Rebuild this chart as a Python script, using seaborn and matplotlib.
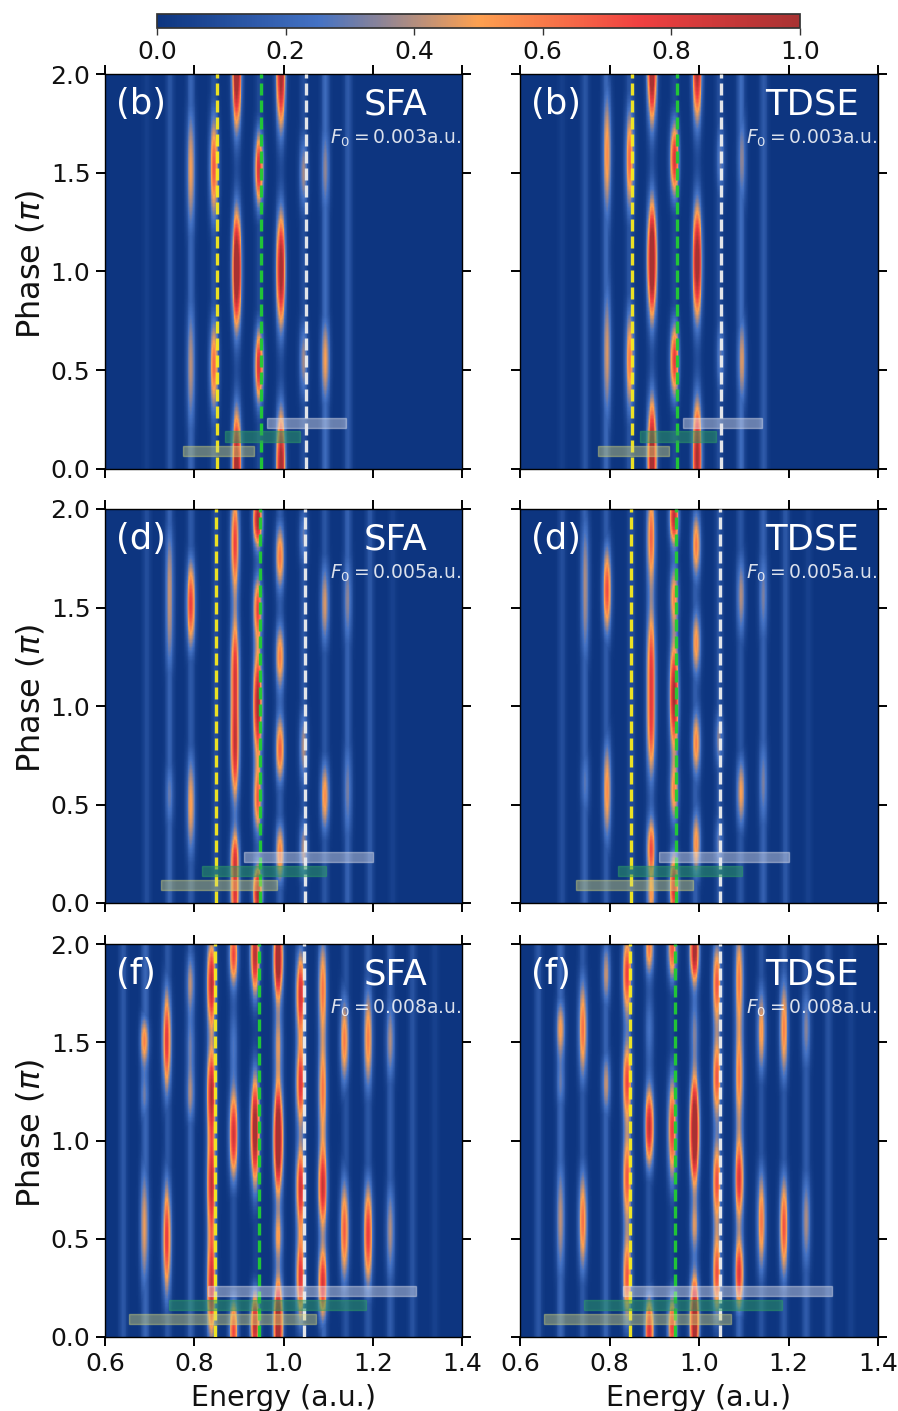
import numpy as np
import pandas as pd
import matplotlib
matplotlib.use("Agg")
import matplotlib.pyplot as plt
from matplotlib.colors import LinearSegmentedColormap
from matplotlib.cm import ScalarMappable
from matplotlib.colors import Normalize
from matplotlib.patches import Rectangle
import seaborn as sns

# each peak: energy, phase, amplitude, phase spread
B_SFA = [(.792,1.52,.50,.25),(.792,.52,.42,.27),(.844,1.53,.70,.20),(.844,.52,.65,.18),
         (.895,2.03,1.25,.21),(.895,1.01,1.3,.21),(.895,.0,1.15,.21),(.945,1.52,.85,.14),(.945,.52,.85,.14),
         (.994,2.02,1.1,.21),(.994,1.01,1.1,.21),(.994,.0,1.1,.21),(1.045,1.5,.38,.15),(1.045,.55,.38,.15),
         (1.094,1.52,.36,.2),(1.094,.55,.5,.18)]
B_TDSE = [(.794,1.6,.55,.25),(.794,.585,.45,.28),(.845,1.57,.65,.2),(.845,.55,.6,.2),
          (.895,2.06,1.25,.21),(.895,1.06,1.3,.21),(.895,.06,1.15,.21),(.945,1.57,.85,.14),(.945,.55,.8,.14),
          (.996,2.06,1.1,.21),(.996,1.05,1.15,.21),(.996,.06,1.05,.21),(1.048,1.57,.3,.15),(1.048,.57,.3,.15),
          (1.096,1.57,.35,.2),(1.096,.55,.45,.18)]
D_SFA = [(.744,1.71,.33,.2),(.744,1.37,.3,.2),(.744,.55,.3,.15),(.792,1.52,.78,.17),(.792,.5,.52,.2),
         (.891,1.83,.75,.2),(.891,1.2,.75,.2),(.891,.78,.85,.2),(.891,.2,.85,.12),(.891,.0,.6,.08),
         (.942,1.95,1.05,.1),(.942,1.5,.72,.12),(.942,1.01,1.05,.2),(.942,.52,.65,.13),(.942,.05,1.05,.1),
         (.992,1.76,.62,.13),(.992,1.25,.6,.13),(.992,.78,.68,.13),(.992,.25,.6,.12),
         (1.045,.79,.4,.15),(1.045,.27,.4,.12),(1.045,1.86,.3,.12),
         (1.093,1.52,.45,.17),(1.093,.54,.55,.14),(1.144,1.54,.35,.2),(1.144,.57,.32,.22)]
D_TDSE = [(.745,1.76,.3,.2),(.745,1.42,.28,.2),(.745,.61,.28,.15),(.794,1.59,.72,.17),(.794,.57,.55,.2),
          (.893,1.86,.65,.2),(.893,1.25,.65,.2),(.893,.88,.65,.2),(.893,.27,.72,.12),(.893,.02,.45,.08),
          (.944,1.96,.95,.1),(.944,1.56,.55,.12),(.944,1.05,1.05,.2),(.944,.56,.55,.12),(.944,.08,.9,.12),
          (.994,1.82,.6,.13),(.994,1.32,.55,.13),(.994,.81,.58,.13),(.994,.3,.55,.13),
          (1.045,.83,.35,.12),(1.045,.3,.3,.12),(1.094,1.56,.4,.17),(1.094,.56,.5,.14),
          (1.144,1.56,.33,.2),(1.144,.61,.33,.2)]
F_SFA = [(.688,1.51,.58,.1),(.688,1.23,.3,.1),(.688,.56,.48,.25),(.738,1.51,.8,.2),(.738,.5,.78,.22),
         (.791,1.8,.42,.13),(.791,1.5,.25,.1),(.791,1.24,.4,.13),
         (.838,1.8,.95,.17),(.838,1.25,.95,.17),(.838,.78,.9,.2),(.838,.25,.9,.2),
         (.888,1.95,.75,.12),(.888,1.5,.25,.15),(.888,1.03,.88,.17),(.888,.03,.75,.12),
         (.936,1.95,.95,.15),(.936,1.05,1.1,.2),(.936,.06,.95,.12),
         (.988,1.93,1.2,.15),(.988,1.5,.4,.13),(.988,1.01,1.3,.2),(.988,.51,.45,.1),(.988,.06,1.2,.17),
         (1.038,1.75,.85,.16),(1.038,1.29,.8,.16),(1.038,.76,.85,.16),(1.038,.3,.8,.16),
         (1.088,1.78,.6,.2),(1.088,1.25,.6,.2),(1.088,.76,.88,.16),(1.088,.27,.85,.14),
         (1.137,1.51,.6,.17),(1.137,.54,.68,.2),(1.19,1.52,.6,.2),(1.19,.52,.8,.2),
         (1.24,1.51,.4,.17),(1.24,.54,.4,.2)]
F_TDSE = [(.69,1.57,.52,.12),(.69,1.28,.28,.1),(.69,.6,.42,.25),(.74,1.57,.62,.2),(.74,.59,.62,.2),
          (.792,1.85,.42,.13),(.792,1.29,.42,.13),
          (.839,1.85,.78,.16),(.839,1.3,.75,.16),(.839,.81,.7,.17),(.839,.3,.7,.17),
          (.889,1.98,.6,.1),(.889,1.57,.25,.15),(.889,1.07,.92,.15),(.889,.03,.85,.13),
          (.94,1.98,.7,.12),(.94,1.06,.75,.2),(.94,.05,.75,.12),
          (.99,1.97,1.05,.12),(.99,1.57,.3,.13),(.99,1.05,1.3,.2),(.99,.56,.4,.1),(.99,.08,1.15,.17),
          (1.04,1.8,.7,.16),(1.04,1.32,.7,.16),(1.04,.79,.72,.16),(1.04,.32,.72,.16),
          (1.09,1.83,.58,.2),(1.09,1.32,.58,.2),(1.09,.8,.82,.16),(1.09,.32,.82,.14),
          (1.14,1.56,.52,.17),(1.14,.59,.6,.2),(1.19,1.57,.58,.2),(1.19,.56,.7,.2),
          (1.24,1.57,.35,.17),(1.24,.59,.4,.2)]

# faint vertical streaks: energy, level
B_STREAKS = [(.693,.04),(.745,.13),(.792,.2),(.844,.12),(.895,.08),(.945,.08),(.994,.08),(1.045,.1),(1.094,.22),(1.145,.15)]
D_STREAKS = [(.693,.1),(.744,.18),(.792,.15),(.848,.1),(.891,.06),(.944,.08),(.992,.16),(1.045,.13),(1.093,.13),(1.144,.18),(1.194,.14),(1.245,.05)]
F_STREAKS = [(.64,.14),(.69,.2),(.74,.14),(.791,.18),(.888,.12),(.938,.06),(.99,.14),(1.04,.1),(1.09,.2),(1.14,.12),(1.19,.14),(1.24,.16),(1.29,.12),(1.34,.05)]

# guide lines (yellow, green, white) and shaded bars
LINES = [[.85,.95,1.05],[.848,.948,1.048],[.846,.946,1.046]]
BARS_ROW1 = [(.774,.933),(.869,1.037),(.964,1.141)]
BARS_ROW2 = [(.725,.986),(.818,1.095),(.911,1.201)]
BARS_ROW3 = [(.653,1.072),(.743,1.185),(.831,1.297)]
BAR_PHASE = [(.067,.118),(.138,.19),(.209,.258)]
BAR_COLORS = ["#d9d878","#2f9e62","#e8e8f0"]
BAR_ALPHA = [.42,.5,.42]
LINE_COLORS = ["#f7ea1e","#22cc33","#eeeeee"]

CBAR_COLORS = ["#0d3580","#4472c4","#fda050","#f04040","#a83232"]
TICKS_E = [.6,.8,1.0,1.2,1.4]
TICKS_P = [0,.5,1.0,1.5,2.0]
PANELS = [[("(b)","SFA","0.003",B_SFA,B_STREAKS),("(b)","TDSE","0.003",B_TDSE,B_STREAKS)],
          [("(d)","SFA","0.005",D_SFA,D_STREAKS),("(d)","TDSE","0.005",D_TDSE,D_STREAKS)],
          [("(f)","SFA","0.008",F_SFA,F_STREAKS),("(f)","TDSE","0.008",F_TDSE,F_STREAKS)]]
ROW_BARS = [BARS_ROW1,BARS_ROW2,BARS_ROW3]

W, H = 898, 1411
sns.set_theme(style="white")
plt.rcParams["font.family"] = "DejaVu Sans"
cmap = LinearSegmentedColormap.from_list("c", CBAR_COLORS)
fig = plt.figure(figsize=(W/100, H/100), dpi=100)

NX, NY = 450, 300
E = np.linspace(.6, 1.4, NX)
P = np.linspace(0, 2, NY)
EE, PP = np.meshgrid(E, P)
SE = .0068
SPREAD = .95
xs = lambda v: (np.asarray(v)-.6)/.8*NX
ys = lambda v: np.asarray(v)/2*NY

def field(peaks, streaks):
    back = np.zeros_like(EE)
    for e, lvl in streaks:
        back += lvl*np.exp(-(EE-e)**2/(2*(SE*.9)**2))
    Z = np.zeros_like(EE)
    for e, p, a, s in peaks:
        Z += a*np.exp(-(EE-e)**2/(2*SE**2))*np.exp(-(PP-p)**2/(2*(s*SPREAD)**2))
    return np.clip(np.maximum(Z, back), 0, 1)

COLS = [(105,462),(520,878)]
ROWS = [(74,469),(509,903),(944,1337)]
for r,(top,bot) in enumerate(ROWS):
    for c,(l,rr) in enumerate(COLS):
        ax = fig.add_axes([l/W, 1-bot/H, (rr-l)/W, (bot-top)/H])
        tag, name, f0, peaks, streaks = PANELS[r][c]
        df = pd.DataFrame(field(peaks, streaks), index=P, columns=E)
        sns.heatmap(df, ax=ax, cmap=cmap, vmin=0, vmax=1, cbar=False, xticklabels=False, yticklabels=False)
        ax.set_xlim(0, NX); ax.set_ylim(0, NY)
        ax.set_xlabel(""); ax.set_ylabel("")
        for sp in ax.spines.values():
            sp.set_visible(True); sp.set_color("black"); sp.set_linewidth(1.0)
        ax.set_xticks(xs(TICKS_E)); ax.set_yticks(ys(TICKS_P))
        ax.tick_params(direction="out", length=6.5, width=1.4, top=True, right=True, bottom=True, left=True,
                       labelsize=18, color="black", labelcolor="#111111", pad=4)
        ax.set_xticklabels([f"{v:.1f}" for v in TICKS_E] if r==2 else [])
        ax.set_yticklabels([f"{v:.1f}" for v in TICKS_P] if c==0 else [])
        if r==2: ax.set_xlabel("Energy (a.u.)", fontsize=20.5, labelpad=6, color="#111111")
        if c==0: ax.set_ylabel(r"Phase ($\pi$)", fontsize=23, labelpad=3, y=.518, color="#111111")
        for (a,b),(p0,p1),col,al in zip(ROW_BARS[r],BAR_PHASE,BAR_COLORS,BAR_ALPHA):
            ax.add_patch(Rectangle((xs(a),ys(p0)),xs(b)-xs(a),ys(p1)-ys(p0),facecolor=col,edgecolor=col,alpha=al,lw=1,zorder=4))
        for v,col in zip(LINES[r],LINE_COLORS):
            ax.axvline(xs(v),color=col,lw=2.4,ls=(0,(3.6,1.5)),alpha=.95,zorder=3)
        ax.text(.03,.923,tag,transform=ax.transAxes,color="white",fontsize=25.5,va="center",ha="left")
        ax.text(.815,.923,name,transform=ax.transAxes,color="white",fontsize=25.5,va="center",ha="center")
        ax.text(1.0,.836,rf"$F_0={f0}$a.u.",transform=ax.transAxes,color="white",alpha=.85,fontsize=13.5,va="center",ha="right")

cax = fig.add_axes([157/W, 1-28/H, (800-157)/W, 14/H])
cb = fig.colorbar(ScalarMappable(Normalize(0,1),cmap), cax=cax, orientation="horizontal", ticks=[0,.2,.4,.6,.8,1.0])
cb.ax.tick_params(labelsize=18, length=5, width=1, bottom=True, direction="out", color="#333333", labelcolor="#111111")
cb.outline.set_edgecolor("#333333")
fig.savefig("out.png", dpi=100)
